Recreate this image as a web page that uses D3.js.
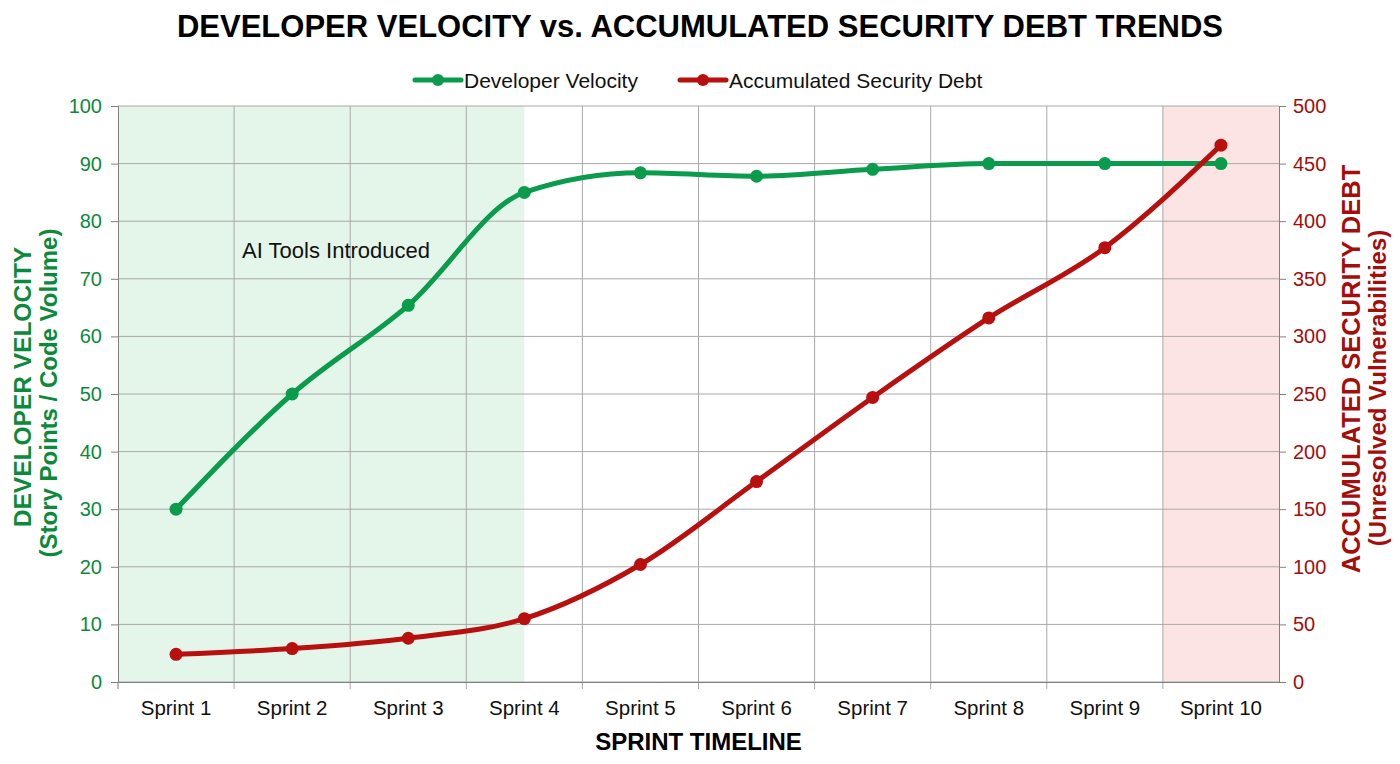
<!DOCTYPE html>
<html>
<head>
<meta charset="utf-8">
<script src="https://cdn.jsdelivr.net/npm/d3@7"></script>
<style>
  body { margin: 0; background: #fff; }
  svg { display: block; font-family: Arial, "Liberation Sans", sans-serif; }
</style>
</head>
<body>
<div id="chart"></div>
<script>
// chart data
const sprints = ["Sprint 1", "Sprint 2", "Sprint 3", "Sprint 4", "Sprint 5",
                 "Sprint 6", "Sprint 7", "Sprint 8", "Sprint 9", "Sprint 10"];
const velocity = [30, 50, 65.4, 85, 88.4, 87.8, 89, 90, 90, 90];
const securityDebt = [24, 29, 38, 55, 102, 174, 247, 316, 377, 466];
const velocityTicks = [0, 10, 20, 30, 40, 50, 60, 70, 80, 90, 100];
const debtTicks = [0, 50, 100, 150, 200, 250, 300, 350, 400, 450, 500];
const aiPhase = ["Sprint 1", "Sprint 4"];   // green shaded span
const riskSprint = "Sprint 10";              // red shaded band

const width = 1400, height = 764;
const plotLeft = 118, plotRight = 1279, plotTop = 106, plotBottom = 682;
const green = "#0a9b4c", greenText = "#0b8a3c";
const red = "#b80f0f", redText = "#a50c0c";

const svg = d3.select("#chart").append("svg")
    .attr("width", width)
    .attr("height", height);

const x = d3.scaleBand().domain(sprints).range([plotLeft, plotRight]);
const cx = d => x(d) + x.bandwidth() / 2;
const yL = d3.scaleLinear().domain([0, 100]).range([plotBottom, plotTop]);
const yR = d3.scaleLinear().domain([0, 500]).range([plotBottom, plotTop]);

// shaded phases
svg.append("rect")
    .attr("x", x(aiPhase[0]))
    .attr("y", plotTop)
    .attr("width", cx(aiPhase[1]) - x(aiPhase[0]))
    .attr("height", plotBottom - plotTop)
    .attr("fill", "#e4f5e9");
svg.append("rect")
    .attr("x", x(riskSprint))
    .attr("y", plotTop)
    .attr("width", x.bandwidth())
    .attr("height", plotBottom - plotTop)
    .attr("fill", "#fde4e4");

// grid
svg.append("g").selectAll("line")
    .data(velocityTicks)
    .enter().append("line")
    .attr("x1", plotLeft).attr("x2", plotRight)
    .attr("y1", d => yL(d)).attr("y2", d => yL(d))
    .attr("stroke", "#a9a9a9").attr("stroke-width", 1);
svg.append("g").selectAll("line")
    .data(sprints.slice(1))
    .enter().append("line")
    .attr("x1", d => x(d)).attr("x2", d => x(d))
    .attr("y1", plotTop).attr("y2", plotBottom + 7)
    .attr("stroke", "#a9a9a9").attr("stroke-width", 1);

// axes
const gl = svg.append("g")
    .attr("transform", `translate(${plotLeft},0)`)
    .call(d3.axisLeft(yL).tickValues(velocityTicks).tickSize(7).tickPadding(9));
gl.selectAll("text").attr("fill", greenText).style("font-size", "20px");

const gr = svg.append("g")
    .attr("transform", `translate(${plotRight},0)`)
    .call(d3.axisRight(yR).tickValues(debtTicks).tickSize(7).tickPadding(7));
gr.selectAll("text").attr("fill", redText).style("font-size", "20px");

const gb = svg.append("g")
    .attr("transform", `translate(0,${plotBottom})`)
    .call(d3.axisBottom(x).tickSize(0).tickPadding(18));
gb.selectAll("text").attr("fill", "#111").style("font-size", "20.5px");

[gl, gr, gb].forEach(g => {
    g.select(".domain").attr("stroke", "#808080");
    g.selectAll(".tick line").attr("stroke", "#808080");
});
svg.append("line")
    .attr("x1", plotLeft).attr("x2", plotLeft)
    .attr("y1", plotBottom).attr("y2", plotBottom + 7)
    .attr("stroke", "#808080");

// lines
const velLine = d3.line()
    .x((d, i) => cx(sprints[i]))
    .y(d => yL(d))
    .curve(d3.curveMonotoneX);
const debtLine = d3.line()
    .x((d, i) => cx(sprints[i]))
    .y(d => yR(d))
    .curve(d3.curveMonotoneX);

svg.append("path")
    .datum(velocity)
    .attr("d", velLine)
    .attr("fill", "none")
    .attr("stroke", green)
    .attr("stroke-width", 5);
svg.selectAll(".vel-dot")
    .data(velocity)
    .enter().append("circle")
    .attr("class", "vel-dot")
    .attr("cx", (d, i) => cx(sprints[i]))
    .attr("cy", d => yL(d))
    .attr("r", 6.5)
    .attr("fill", green);

svg.append("path")
    .datum(securityDebt)
    .attr("d", debtLine)
    .attr("fill", "none")
    .attr("stroke", red)
    .attr("stroke-width", 5);
svg.selectAll(".debt-dot")
    .data(securityDebt)
    .enter().append("circle")
    .attr("class", "debt-dot")
    .attr("cx", (d, i) => cx(sprints[i]))
    .attr("cy", d => yR(d))
    .attr("r", 6.5)
    .attr("fill", red);

// annotation
svg.append("text")
    .attr("x", x("Sprint 2") + 8)
    .attr("y", yL(75) + 8)
    .attr("fill", "#111")
    .style("font-size", "22px")
    .text("AI Tools Introduced");

// title
svg.append("text")
    .attr("x", 700).attr("y", 37)
    .attr("text-anchor", "middle")
    .style("font-size", "31px").style("font-weight", "bold")
    .attr("fill", "#000")
    .text("DEVELOPER VELOCITY vs. ACCUMULATED SECURITY DEBT TRENDS");

// legend
const legend = [
    { label: "Developer Velocity", color: green, x: 415 },
    { label: "Accumulated Security Debt", color: red, x: 680 }
];
const lg = svg.append("g").selectAll("g")
    .data(legend).enter().append("g")
    .attr("transform", d => `translate(${d.x},80)`);
lg.append("line").attr("x1", 0).attr("x2", 46)
    .attr("stroke", d => d.color).attr("stroke-width", 5).attr("stroke-linecap", "round");
lg.append("circle").attr("cx", 23).attr("r", 6).attr("fill", d => d.color);
lg.append("text").attr("x", 49).attr("dy", "0.36em")
    .style("font-size", "21px").attr("fill", "#111")
    .text(d => d.label);

// axis titles
svg.append("text")
    .attr("x", (plotLeft + plotRight) / 2).attr("y", 750)
    .attr("text-anchor", "middle")
    .style("font-size", "24px").style("font-weight", "bold")
    .text("SPRINT TIMELINE");

function vTitle(px, py, text, color, size) {
    svg.append("text")
        .attr("transform", `translate(${px},${py}) rotate(-90)`)
        .attr("text-anchor", "middle")
        .attr("dy", "0.35em")
        .attr("fill", color)
        .style("font-size", size + "px").style("font-weight", "bold")
        .text(text);
}
vTitle(22, 387, "DEVELOPER VELOCITY", greenText, 24.5);
vTitle(49, 393, "(Story Points / Code Volume)", greenText, 24);
vTitle(1351, 369, "ACCUMULATED SECURITY DEBT", redText, 25.5);
vTitle(1378, 388, "(Unresolved Vulnerabilities)", redText, 24);
</script>
</body>
</html>
